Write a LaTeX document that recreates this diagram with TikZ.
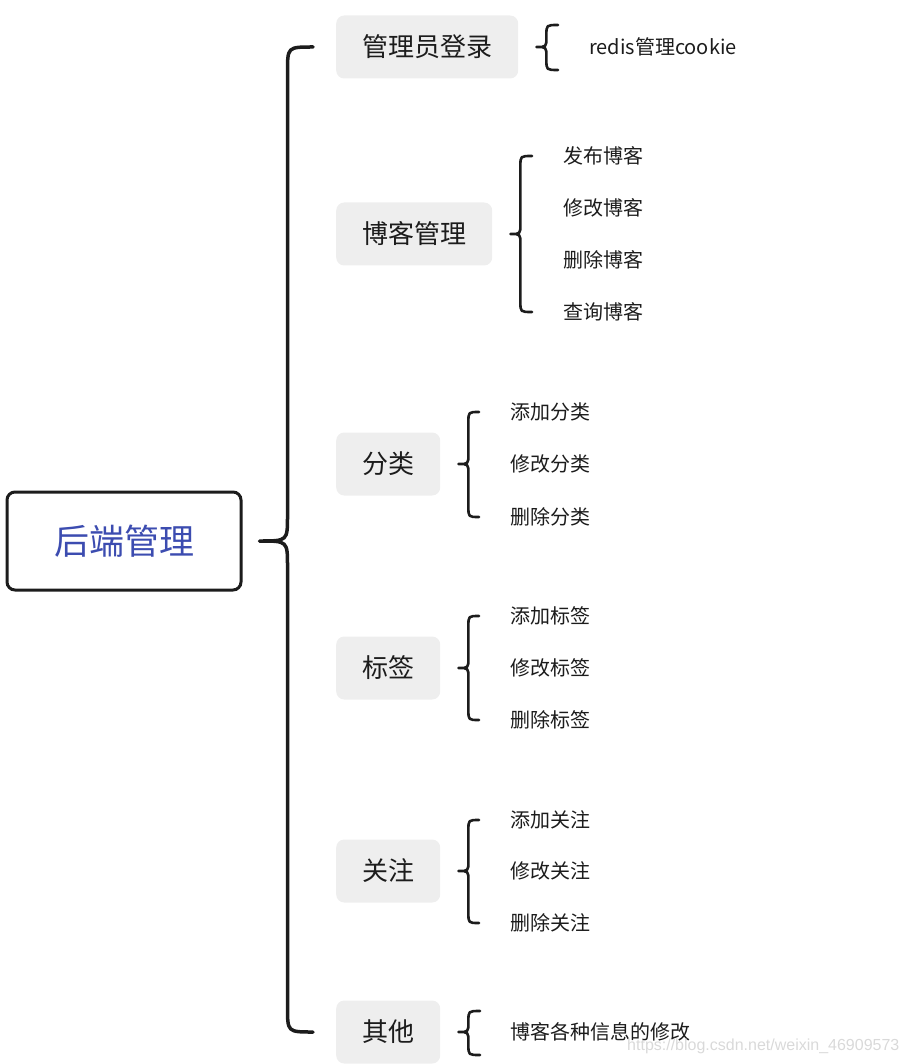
\documentclass[tikz,border=0pt]{standalone}
\usepackage{fontspec}
\newfontfamily\cjk{Noto Sans CJK SC}
\newfontfamily\wmfont{Liberation Sans}
\usetikzlibrary{calc}
\definecolor{boxgray}{HTML}{EEEEEE}
\definecolor{rootblue}{RGB}{60,76,176}
\definecolor{ink}{HTML}{1C1C1C}
\tikzset{
  root/.style={draw=ink,line width=3pt,rounded corners=8pt,minimum width=234pt,minimum height=98pt,text=rootblue,font=\cjk\fontsize{35}{40}\selectfont},
  topic/.style={fill=boxgray,rounded corners=8pt,inner xsep=26pt,minimum height=63pt,text=ink,anchor=west,font=\cjk\fontsize{26}{30}\selectfont},
  leaf/.style={inner sep=0pt,anchor=west,text=ink,font=\cjk\fontsize{20}{24}\selectfont},
  brace/.style={draw=ink,line width=2.6pt,line cap=round,line join=round},
}
% curly bracket: cusp, top end, bottom end, depth, radius
\newcommand\curly[6][brace]{%
  \draw[#1] let \p1=(#2), \p2=(#3), \p3=(#4) in
    (\p2) .. controls (\x1+#5,\y2) .. (\x1+#5,\y2-#6)
    -- (\x1+#5,\y1+#6) .. controls (\x1+#5,\y1) .. (\p1)
    .. controls (\x1+#5,\y1) .. (\x1+#5,\y1-#6)
    -- (\x1+#5,\y3+#6) .. controls (\x1+#5,\y3) .. (\p3);}

\begin{document}
\begin{tikzpicture}[x=1pt,y=-1pt]
  \useasboundingbox (0,0) rectangle (909,1064);
  \node[root] (r) at (124,541) {后端管理};
  \node[topic] (t1) at (336,47) {管理员登录};
  \node[topic] (t2) at (336,234) {博客管理};
  \node[topic] (t3) at (336,464) {分类};
  \node[topic] (t4) at (336,668) {标签};
  \node[topic] (t5) at (336,871) {关注};
  \node[topic] (t6) at (336,1032) {其他};
  \curly[brace,line width=3.5pt]{[xshift=17pt]r.east}{[xshift=-23pt]t1.west}{[xshift=-23pt]t6.west}{28pt}{25pt}

  % leaves
  \node[leaf] (x1) at (589,47) {redis管理cookie};
  \node[leaf] (b1) at (563,156) {发布博客};
  \node[leaf] (b2) at (563,208) {修改博客};
  \node[leaf] (b3) at (563,260) {删除博客};
  \node[leaf] (b4) at (563,312) {查询博客};
  \node[leaf] (f1) at (510,412) {添加分类};
  \node[leaf] (f2) at (510,464) {修改分类};
  \node[leaf] (f3) at (510,517) {删除分类};
  \node[leaf] (g1) at (510,616) {添加标签};
  \node[leaf] (g2) at (510,668) {修改标签};
  \node[leaf] (g3) at (510,720) {删除标签};
  \node[leaf] (c1) at (510,820) {添加关注};
  \node[leaf] (c2) at (510,871) {修改关注};
  \node[leaf] (c3) at (510,923) {删除关注};
  \node[leaf] (x2) at (510,1032) {博客各种信息的修改};

  \curly{[xshift=18pt]t1.east}{[xshift=-31pt,yshift=22pt]x1.west}{[xshift=-31pt,yshift=-23pt]x1.west}{10pt}{10pt}
  \curly{[xshift=18pt]t2.east}{[xshift=-31pt]b1.west}{[xshift=-31pt]b4.west}{10pt}{10pt}
  \curly{[xshift=18pt]t3.east}{[xshift=-31pt]f1.west}{[xshift=-31pt]f3.west}{10pt}{10pt}
  \curly{[xshift=18pt]t4.east}{[xshift=-31pt]g1.west}{[xshift=-31pt]g3.west}{10pt}{10pt}
  \curly{[xshift=18pt]t5.east}{[xshift=-31pt]c1.west}{[xshift=-31pt]c3.west}{10pt}{10pt}
  \curly{[xshift=18pt]t6.east}{[xshift=-30pt,yshift=21pt]x2.west}{[xshift=-30pt,yshift=-23pt]x2.west}{10pt}{10pt}

  \node[anchor=west,inner sep=0pt,text=black!15,font=\wmfont\fontsize{16}{18}\selectfont] (wm) at (627,1046) {https://blog.csdn.net/weixin\_46909573};
\end{tikzpicture}
\end{document}
